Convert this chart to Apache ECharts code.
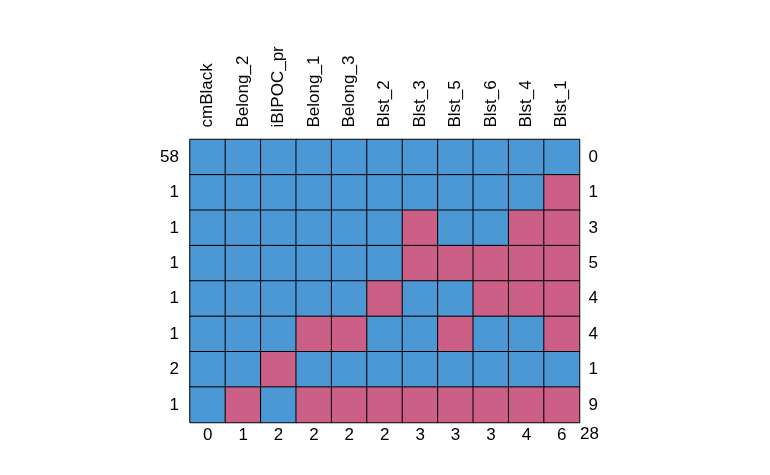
<!DOCTYPE html>
<html>
<head>
<meta charset="utf-8">
<script src="https://cdn.jsdelivr.net/npm/echarts@6/dist/echarts.min.js"></script>
<style>html,body{margin:0;padding:0;background:#fff}#c{width:770px;height:475px}</style>
</head>
<body>
<div id="c"></div>
<script>
var variables = ['cmBlack','Belong_2','iBIPOC_pr','Belong_1','Belong_3','Blst_2','Blst_3','Blst_5','Blst_6','Blst_4','Blst_1'];
var rowCounts = ['58','1','1','1','1','1','2','1'];
var rowMissing = ['0','1','3','5','4','4','1','9'];
var colMissing = ['0','1','2','2','2','2','3','3','3','4','6'];
var totalMissing = '28';
// 1 = observed, 0 = missing
var patterns = [
  [1,1,1,1,1,1,1,1,1,1,1],
  [1,1,1,1,1,1,1,1,1,1,0],
  [1,1,1,1,1,1,0,1,1,0,0],
  [1,1,1,1,1,1,0,0,0,0,0],
  [1,1,1,1,1,0,1,1,0,0,0],
  [1,1,1,0,0,1,1,0,1,1,0],
  [1,1,0,1,1,1,1,1,1,1,1],
  [1,0,1,0,0,0,0,0,0,0,0]
];
var cells = [];
patterns.forEach(function(row, r){ row.forEach(function(v, c){ cells.push([c, r, v]); }); });

var FONT = 'Liberation Sans, Arial, sans-serif';
var FS = 17;
var chart = echarts.init(document.getElementById('c'), null, {renderer:'canvas'});
var lbl = {color:'#000', fontFamily:FONT, fontSize:FS};
chart.setOption({
  animation:false,
  backgroundColor:'#fff',
  grid:{left:190, right:190.5, top:139.5, bottom:52.5, containLabel:false},
  xAxis:[
    {type:'category', position:'top', data:variables, axisLine:{show:false}, axisTick:{show:false}, splitLine:{show:false},
     axisLabel:Object.assign({rotate:-90, margin:12, interval:0, padding:[4,0,0,0]}, lbl)},
    {type:'category', position:'bottom', data:colMissing, axisLine:{show:false}, axisTick:{show:false}, splitLine:{show:false},
     axisLabel:Object.assign({margin:4, interval:0}, lbl)}
  ],
  yAxis:[
    {type:'category', position:'left', inverse:true, data:rowCounts, axisLine:{show:false}, axisTick:{show:false}, splitLine:{show:false},
     axisLabel:Object.assign({margin:11, interval:0, padding:[4,0,0,0]}, lbl)},
    {type:'category', position:'right', inverse:true, data:rowMissing, axisLine:{show:false}, axisTick:{show:false}, splitLine:{show:false},
     axisLabel:Object.assign({margin:9, interval:0, padding:[4,0,0,0]}, lbl)}
  ],
  visualMap:{show:false, type:'piecewise', dimension:2, pieces:[{value:0, color:'#CC5F85'},{value:1, color:'#4C98D4'}]},
  series:[{type:'heatmap', xAxisIndex:0, yAxisIndex:0, data:cells,
    itemStyle:{borderColor:'#000', borderWidth:1}, emphasis:{disabled:true}}]
});
var p9 = chart.convertToPixel({xAxisIndex:0}, 9);
var p10 = chart.convertToPixel({xAxisIndex:0}, 10);
var cw = p10 - p9;
chart.setOption({graphic:[{type:'text', left:p10 + cw/2 + 0.5, top:426,
  style:{text:totalMissing, fill:'#000', font:FS+'px '+FONT}}]});
</script>
</body>
</html>
